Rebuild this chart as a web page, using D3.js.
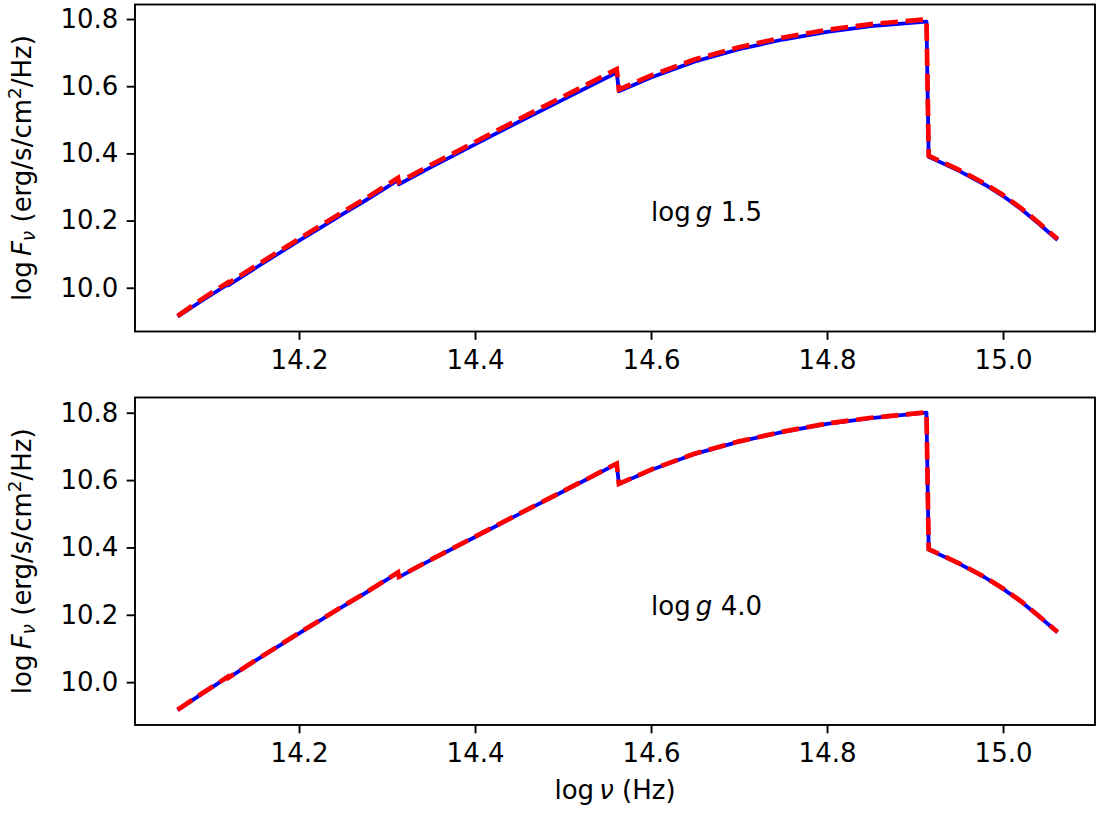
<!DOCTYPE html>
<html>
<head>
<meta charset="utf-8">
<script src="https://cdn.jsdelivr.net/npm/d3@7"></script>
<style>
  body { margin: 0; background: #fff; }
  svg, svg text { font-family: "DejaVu Sans", sans-serif; }
  .tick line { stroke: #000; stroke-width: 1.9px; }
  .domain { display: none; }
</style>
</head>
<body>
<div id="chart"></div>
<script>
// log nu grid (Hz), with the Pfund, Brackett, Paschen and Balmer edges
var logNu = [14.062, 14.09, 14.119, 14.1195, 14.15, 14.175, 14.20, 14.225, 14.25, 14.275,
  14.3125, 14.3135, 14.35, 14.40, 14.45, 14.50, 14.53, 14.561, 14.5635, 14.60,
  14.65, 14.70, 14.75, 14.80, 14.85, 14.913, 14.9155, 14.95, 14.98, 15.00,
  15.02, 15.04, 15.062];

// log g 1.5
var fluxTopBlue = [9.914, 9.962, 10.010, 10.007, 10.058, 10.099, 10.140, 10.180, 10.220, 10.259,
  10.320, 10.308, 10.359, 10.427, 10.494, 10.560, 10.600, 10.641, 10.585, 10.626,
  10.674, 10.710, 10.739, 10.762, 10.779, 10.792, 10.390, 10.348, 10.306, 10.273,
  10.235, 10.192, 10.142];
var fluxTopRed = [9.916, 9.967, 10.016, 10.013, 10.064, 10.105, 10.146, 10.186, 10.226, 10.265,
  10.327, 10.314, 10.366, 10.434, 10.502, 10.569, 10.609, 10.651, 10.590, 10.632,
  10.680, 10.716, 10.745, 10.768, 10.785, 10.799, 10.393, 10.351, 10.309, 10.276,
  10.238, 10.195, 10.145];

// log g 4.0
var fluxBotBlue = [9.917, 9.966, 10.015, 10.012, 10.063, 10.104, 10.145, 10.185, 10.225, 10.264,
  10.325, 10.312, 10.363, 10.431, 10.499, 10.566, 10.606, 10.648, 10.588, 10.630,
  10.678, 10.714, 10.743, 10.767, 10.784, 10.800, 10.394, 10.352, 10.310, 10.277,
  10.240, 10.197, 10.148];
var fluxBotRed = [9.918, 9.967, 10.016, 10.013, 10.064, 10.105, 10.146, 10.186, 10.226, 10.265,
  10.326, 10.313, 10.364, 10.432, 10.500, 10.567, 10.607, 10.649, 10.589, 10.631,
  10.679, 10.715, 10.744, 10.768, 10.785, 10.801, 10.395, 10.353, 10.311, 10.278,
  10.241, 10.198, 10.149];

var xLimits = [14.0136, 15.1045];
var xTicks = [14.2, 14.4, 14.6, 14.8, 15.0];
var yTicks = [10.0, 10.2, 10.4, 10.6, 10.8];
var panelLabels = ["1.5", "4.0"];

var W = 1096, H = 813;
var FONT = "DejaVu Sans";
var svg = d3.select("#chart").append("svg").attr("width", W).attr("height", H);

var left = 135, right = 1095;
var panels = [
  { top: 4.5, bottom: 331.5, blue: fluxTopBlue, red: fluxTopRed, label: panelLabels[0] },
  { top: 397.5, bottom: 725, blue: fluxBotBlue, red: fluxBotRed, label: panelLabels[1] }
];

function padded(ext) {
  var d = ext[1] - ext[0];
  return [ext[0] - 0.05 * d, ext[1] + 0.05 * d];
}

var x = d3.scaleLinear().domain(xLimits).range([left, right]);

panels.forEach(function (p, i) {
  var all = p.blue.concat(p.red);
  var y = d3.scaleLinear().domain(padded(d3.extent(all))).range([p.bottom, p.top]);
  var g = svg.append("g");

  var line = function (vals) {
    return d3.line()
      .x(function (d, k) { return x(logNu[k]); })
      .y(function (d) { return y(d); })(vals);
  };

  g.append("path").attr("d", line(p.blue))
    .attr("fill", "none").attr("stroke", "#0000ff").attr("stroke-width", 3.8)
    .attr("stroke-linejoin", "round");
  g.append("path").attr("d", line(p.red))
    .attr("fill", "none").attr("stroke", "#ff0000").attr("stroke-width", 4.7)
    .attr("stroke-dasharray", "17.5,7.6");

  // axes
  g.append("g").attr("transform", "translate(0," + p.bottom + ")")
    .call(d3.axisBottom(x).tickValues(xTicks).tickFormat(d3.format(".1f"))
      .tickSize(8.3).tickPadding(10.5))
    .attr("font-family", FONT).attr("font-size", 26);
  g.append("g").attr("transform", "translate(" + left + ",0)")
    .call(d3.axisLeft(y).tickValues(yTicks).tickFormat(d3.format(".1f"))
      .tickSize(8.3).tickPadding(8.3))
    .attr("font-family", FONT).attr("font-size", 26);

  g.append("rect").attr("x", left).attr("y", p.top)
    .attr("width", right - left).attr("height", p.bottom - p.top)
    .attr("fill", "none").attr("stroke", "#000").attr("stroke-width", 1.9);

  // log g label placed at data coords (14.6, 10.2)
  var t = g.append("text").attr("x", x(14.6)).attr("y", y(10.2))
    .attr("font-size", 26);
  t.append("tspan").text("log\u2009");
  t.append("tspan").attr("font-style", "italic").text("g");
  t.append("tspan").text(" " + p.label);

  // y label
  var cy = (p.top + p.bottom) / 2;
  var yl = g.append("text")
    .attr("transform", "translate(31," + cy + ") rotate(-90)")
    .attr("text-anchor", "middle").attr("font-size", 26);
  yl.append("tspan").text("log\u2009");
  yl.append("tspan").attr("font-style", "italic").text("F");
  yl.append("tspan").attr("font-style", "italic").attr("font-size", 18.5).attr("dy", 4).text("\u03bd");
  yl.append("tspan").attr("dy", -4).text(" (erg/s/cm");
  yl.append("tspan").attr("font-size", 18.5).attr("dy", -10).text("2");
  yl.append("tspan").attr("dy", 10).text("/Hz)");
});

// x label
var xl = svg.append("text").attr("x", (left + right) / 2).attr("y", 799)
  .attr("text-anchor", "middle").attr("font-size", 26);
xl.append("tspan").text("log\u2009");
xl.append("tspan").attr("font-style", "italic").text("\u03bd");
xl.append("tspan").text(" (Hz)");
</script>
</body>
</html>
